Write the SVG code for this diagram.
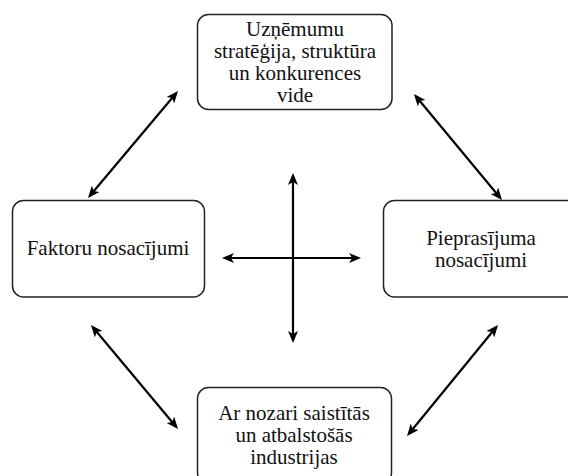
<svg xmlns="http://www.w3.org/2000/svg" width="568" height="476" viewBox="0 0 568 476">
<style>
.box{fill:#fff;stroke:#222;stroke-width:1.5}
.lbl{font-family:'Liberation Serif','DejaVu Serif',serif;font-size:21px;fill:#111;text-anchor:middle}
.con{stroke:#000;stroke-width:2.2;fill:none;marker-start:url(#ah);marker-end:url(#ah)}
</style>
<defs>
<marker id="ah" viewBox="0 0 12 10" refX="9" refY="5" markerWidth="12" markerHeight="10" markerUnits="userSpaceOnUse" orient="auto-start-reverse">
<path d="M0,0 L12,5 L0,10 L3,5 z" fill="#000"/>
</marker>
</defs>
<rect width="568" height="476" fill="#fff"/>
<g id="node-top">
<rect class="box" x="197.5" y="14.5" width="194.5" height="95" rx="11"/>
<text class="lbl" font-family="Liberation Serif, serif"><tspan x="295" y="36">Uzņēmumu</tspan><tspan x="295" y="58">stratēģija, struktūra</tspan><tspan x="295" y="80">un konkurences</tspan><tspan x="295" y="102">vide</tspan></text>
</g>
<g id="node-left">
<rect class="box" x="12.5" y="200.5" width="192" height="96.5" rx="11"/>
<text class="lbl" font-family="Liberation Serif, serif" x="108" y="255">Faktoru nosacījumi</text>
</g>
<g id="node-right">
<rect class="box" x="383.5" y="200.5" width="195" height="96.5" rx="11"/>
<text class="lbl" font-family="Liberation Serif, serif"><tspan x="481" y="245">Pieprasījuma</tspan><tspan x="481" y="267">nosacījumi</tspan></text>
</g>
<g id="node-bottom">
<rect class="box" x="197.5" y="387.5" width="194" height="96" rx="11"/>
<text class="lbl" font-family="Liberation Serif, serif"><tspan x="294" y="420">Ar nozari saistītās</tspan><tspan x="294" y="442">un atbalstošās</tspan><tspan x="294" y="464">industrijas</tspan></text>
</g>
<g id="connectors">
<line class="con" x1="176.1" y1="93.3" x2="89.9" y2="195.7"/>
<line class="con" x1="415.9" y1="96.3" x2="500.1" y2="197.7"/>
<line class="con" x1="92.9" y1="327.3" x2="176.1" y2="426.7"/>
<line class="con" x1="496.1" y1="327.3" x2="408.9" y2="433.7"/>
<line class="con" x1="293" y1="176" x2="293" y2="340"/>
<line class="con" x1="225" y1="258" x2="358" y2="258"/>
</g>
</svg>
